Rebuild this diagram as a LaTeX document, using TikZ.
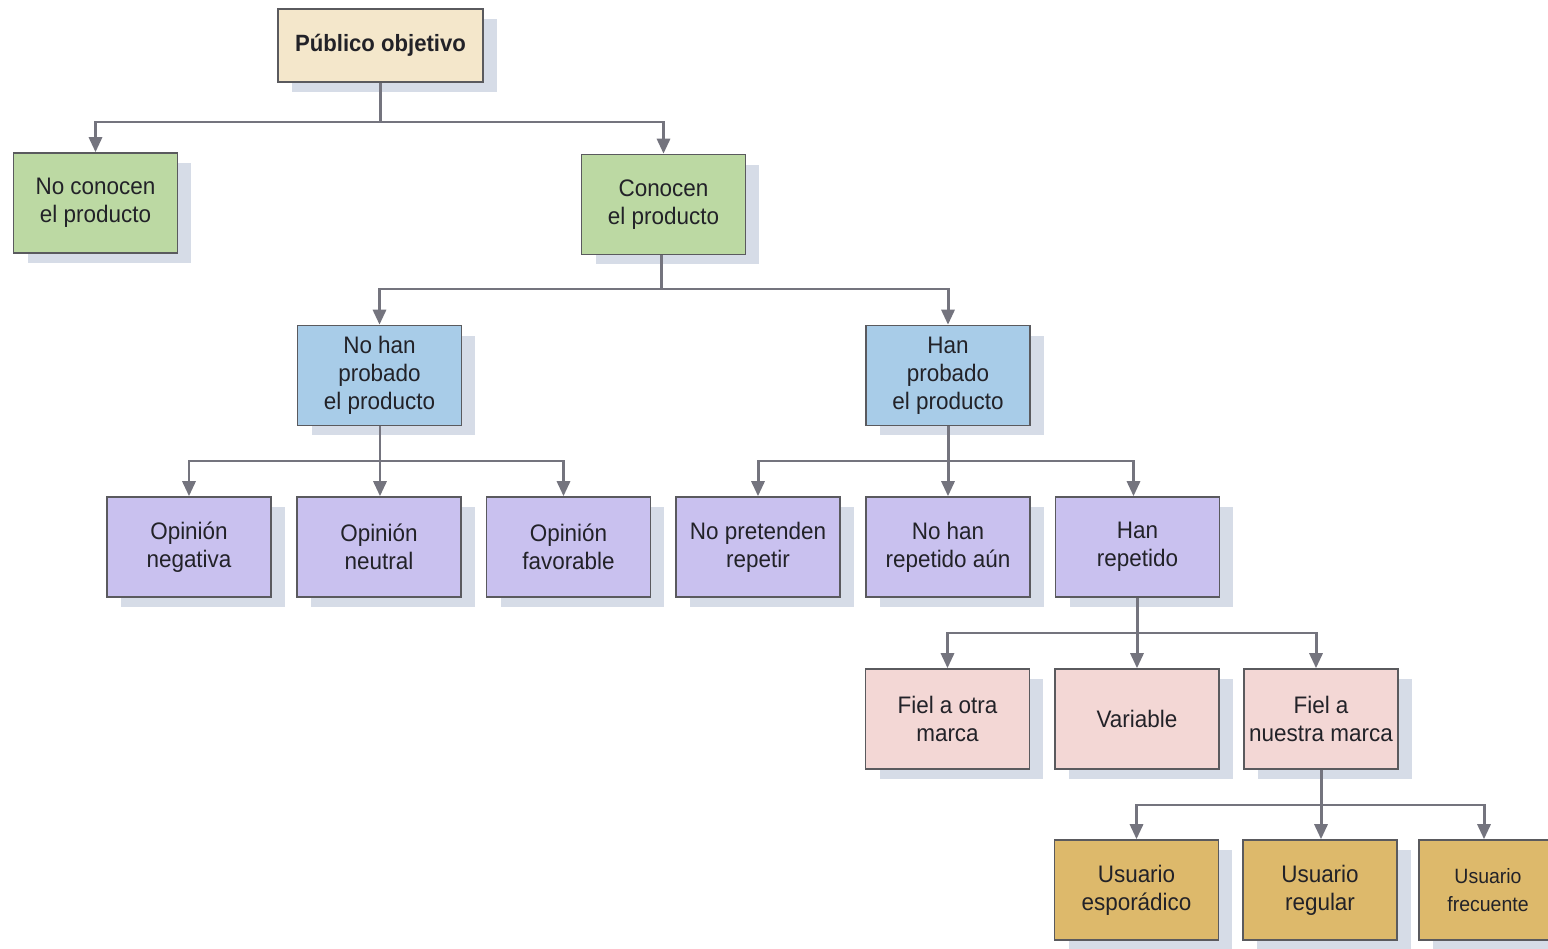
\documentclass[tikz,border=0pt]{standalone}
\usepackage{fontspec}
\setmainfont[FakeStretch=0.94]{Liberation Sans}
\usetikzlibrary{arrows.meta,shadows}
\definecolor{beigec}{HTML}{F4E7CB}
\definecolor{greenc}{HTML}{BCD9A3}
\definecolor{bluec}{HTML}{A8CCE8}
\definecolor{purplec}{HTML}{C9C1EF}
\definecolor{pinkc}{HTML}{F3D7D5}
\definecolor{goldc}{HTML}{DDB96B}
\definecolor{shadowc}{HTML}{D6DCE7}
\definecolor{linec}{HTML}{74747E}
\definecolor{borderc}{HTML}{5A5A5E}
\definecolor{textc}{HTML}{222228}
\tikzset{
  box/.style={draw=borderc, line width=0.9pt, text=textc, align=center,
    font=\fontsize{13.6}{15.9}\selectfont, inner sep=0pt,
    minimum width=3.28cm, minimum height=2.0cm,
    drop shadow={shadow xshift=0.28cm, shadow yshift=-0.2cm, fill=shadowc, opacity=1}},
  conn/.style={draw=linec, line width=1.7pt},
  arr/.style={conn, -{Triangle[width=0.26cm,length=0.3cm]}}
}
\begin{document}
\begin{tikzpicture}[x=0.02cm,y=-0.02cm]
\useasboundingbox[fill=white] (0,0) rectangle (1548,949);
\clip (0,0) rectangle (1548,949);
% nodes
\node[box, fill=beigec, minimum width=4.1cm, minimum height=1.46cm, font=\fontsize{13.4}{15.9}\selectfont\bfseries] (po) at (380.5,45.5) {Público objetivo};
\node[box, fill=greenc] (nc) at (95.5,203) {No conocen\\el producto};
\node[box, fill=greenc] (co) at (663.5,204.5) {Conocen\\el producto};
\node[box, fill=bluec] (nhp) at (379.5,375.5) {No han\\probado\\el producto};
\node[box, fill=bluec] (hp) at (948,375.5) {Han\\probado\\el producto};
\node[box, fill=purplec] (on) at (189,547) {Opinión\\negativa};
\node[box, fill=purplec] (onu) at (379,547) {Opinión\\neutral};
\node[box, fill=purplec] (of) at (568.5,547) {Opinión\\favorable};
\node[box, fill=purplec] (npr) at (758,547) {No pretenden\\repetir};
\node[box, fill=purplec] (nhr) at (948,547) {No han\\repetido aún};
\node[box, fill=purplec] (hr) at (1137.5,547) {Han\\repetido};
\node[box, fill=pinkc] (fo) at (947.5,719) {Fiel a otra\\marca};
\node[box, fill=pinkc] (va) at (1137,719) {Variable};
\node[box, fill=pinkc, minimum width=3.08cm] (fn) at (1321,719) {Fiel a\\nuestra marca};
\node[box, fill=goldc] (ue) at (1136.5,890) {Usuario\\esporádico};
\node[box, fill=goldc, minimum width=3.08cm] (ur) at (1320,890) {Usuario\\regular};
\node[box, fill=goldc, minimum width=2.76cm, font=\fontsize{11.8}{15.9}\selectfont] (uf) at (1488,890) {Usuario\\frecuente};
% junctions
\coordinate (j1) at (380.5,122);
\coordinate (j2) at (661,289);
\coordinate (j3) at (380,461);
\coordinate (j4) at (948,461);
\coordinate (j5) at (1137,633);
\coordinate (j6) at (1321,805);
% connectors
\draw[conn] (po.south -| j1) -- (j1);
\draw[arr] (j1) -| (nc.north);
\draw[arr] (j1) -| (co.north);
\draw[conn] (co.south -| j2) -- (j2);
\draw[arr] (j2) -| (nhp.north);
\draw[arr] (j2) -| (hp.north);
\draw[conn] (nhp.south -| j3) -- (j3);
\draw[arr] (j3) -| (on.north);
\draw[arr] (j3) -- (onu.north -| j3);
\draw[arr] (j3) -| ([xshift=-0.1cm]of.north);
\draw[conn] (hp.south -| j4) -- (j4);
\draw[arr] (j4) -| (npr.north);
\draw[arr] (j4) -- (nhr.north -| j4);
\draw[arr] (j4) -| ([xshift=-0.08cm]hr.north);
\draw[conn] (hr.south -| j5) -- (j5);
\draw[arr] (j5) -| (fo.north);
\draw[arr] (j5) -- (va.north -| j5);
\draw[arr] (j5) -| ([xshift=-0.1cm]fn.north);
\draw[conn] (fn.south -| j6) -- (j6);
\draw[arr] (j6) -| (ue.north);
\draw[arr] (j6) -- (ur.north -| j6);
\draw[arr] (j6) -| ([xshift=-0.08cm]uf.north);
\end{tikzpicture}
\end{document}
